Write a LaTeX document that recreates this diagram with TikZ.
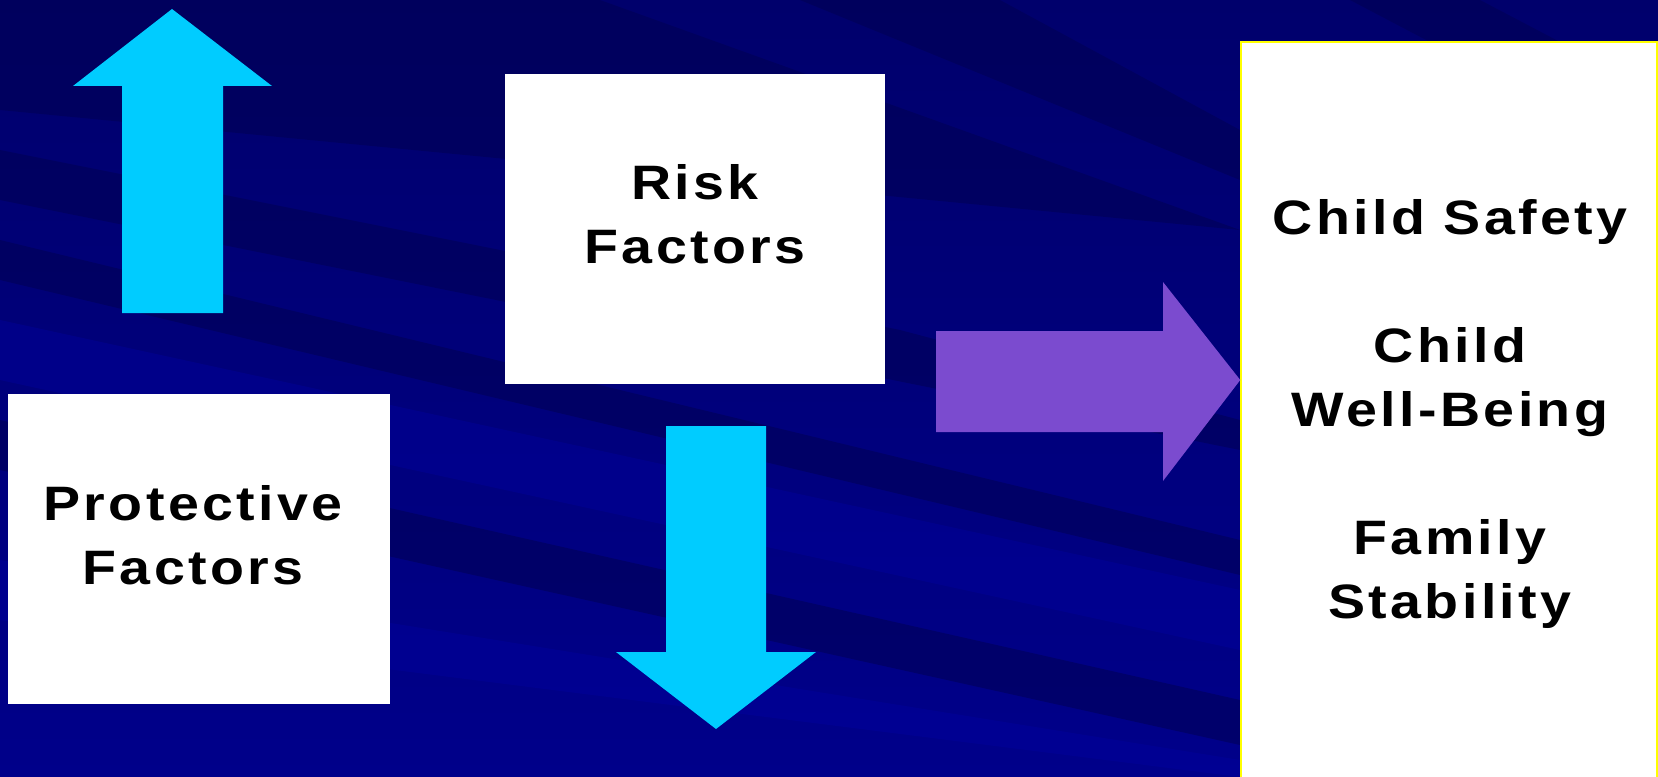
\documentclass[tikz,border=0pt]{standalone}
\usepackage{fontspec}
\newfontfamily\slidefont[LetterSpace=7, FakeStretch=1.15]{Liberation Sans}
\usetikzlibrary{positioning}
\definecolor{colorBgDark}{RGB}{0,0,80}
\definecolor{colorBgTop}{RGB}{0,0,108}
\definecolor{colorBg}{RGB}{0,0,138}
\definecolor{colorBgLight}{RGB}{0,0,165}
\definecolor{colorUpDown}{RGB}{0,204,255}
\definecolor{colorOutcome}{RGB}{123,75,207}
\definecolor{colorFrame}{RGB}{255,255,0}
\tikzset{
  panel/.style={fill=white, inner sep=0pt},
  panel text/.style={font=\slidefont\bfseries\fontsize{27.5pt}{36.5pt}\selectfont, align=center, text=black, inner sep=0pt},
  streak/.style={fill=colorBgDark, opacity=0.5},
  glow/.style={fill=colorBgLight, opacity=0.35},
}

\begin{document}
\begin{tikzpicture}[x=0.02cm, y=-0.02cm]
\useasboundingbox (0,0) rectangle (1658,777);
% background with diagonal streaks
\shade[top color=colorBgTop, bottom color=colorBg] (0,0) rectangle (1658,777);
\fill[streak] (0,0) -- (600,0) -- (1240,230) -- (0,110) -- cycle;
\fill[streak] (0,150) -- (900,330) -- (1240,420) -- (1240,450) -- (0,200) -- cycle;
\fill[streak] (0,240) -- (1240,540) -- (1240,575) -- (0,280) -- cycle;
\fill[streak] (0,420) -- (1240,700) -- (1240,745) -- (0,470) -- cycle;
\fill[streak] (800,0) -- (1000,0) -- (1240,130) -- (1240,180) -- cycle;
\fill[streak] (1350,0) -- (1480,0) -- (1560,42) -- (1430,42) -- cycle;
\fill[glow] (0,320) -- (1240,590) -- (1240,650) -- (0,380) -- cycle;
\fill[glow] (0,560) -- (1240,760) -- (1240,777) -- (0,620) -- cycle;

% boxes
\node[panel, minimum width=7.63cm, minimum height=6.2cm] (protective) at (199,549) {};
\node[panel, minimum width=7.6cm, minimum height=6.2cm] (risk) at (695,229) {};
\node[panel, draw=colorFrame, line width=0.9pt, minimum width=8.32cm, minimum height=15.2cm] (outcomes) at (1449,422) {};

\node[panel text] (protectiveText) at (193,535) {Protective\\Factors};
\node[panel text] (riskText) at (695,214) {Risk\\Factors};
\node[panel text] (outcomesText) at (1450,414) {Child Safety\\[0pt]\mbox{}\\Child\\Well-Being\\\mbox{}\\Family\\Stability};

% block arrows
\fill[colorUpDown] (172,9) -- (272,86) -- (223,86) -- (223,313) -- (122,313) -- (122,86) -- (73,86) -- cycle;
\fill[colorUpDown] (666,426) -- (766,426) -- (766,652) -- (816,652) -- (716,729) -- (616,652) -- (666,652) -- cycle;
\fill[colorOutcome] (936,331) -- (1163,331) -- (1163,282) -- (outcomes.west |- 0,380) -- (1163,481) -- (1163,432) -- (936,432) -- cycle;
\end{tikzpicture}
\end{document}
